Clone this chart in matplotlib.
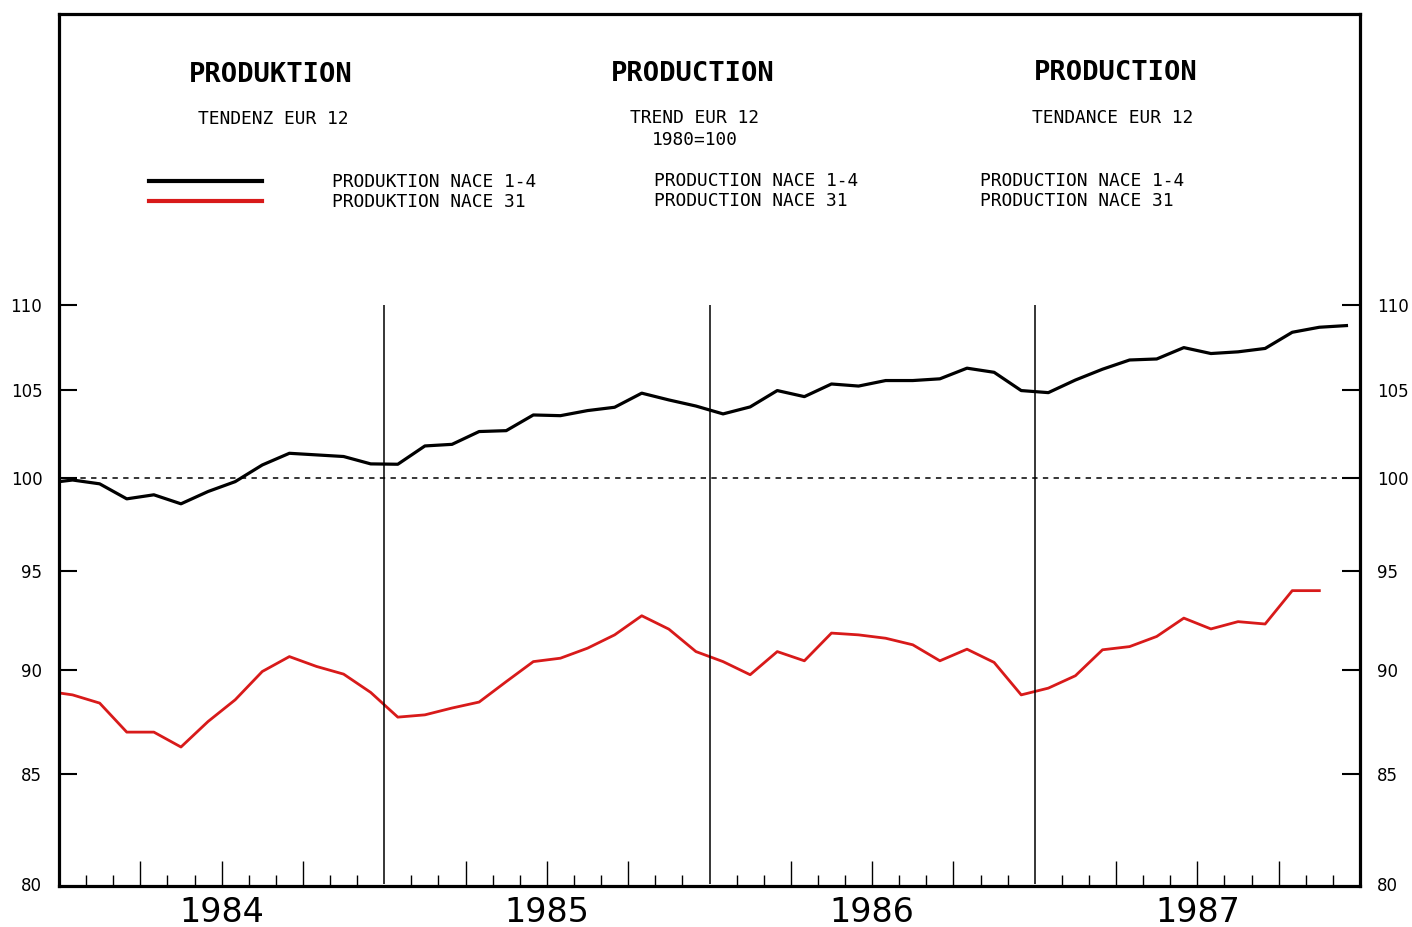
import numpy as np
import matplotlib
matplotlib.use('Agg')
import matplotlib.pyplot as plt
from matplotlib.ticker import FixedLocator, FixedFormatter, NullLocator

# monthly values (index -1 = Dec 1983, only the edge of it is visible)
nace_1_4 = [99.72,
            99.90, 99.69, 98.87, 99.09, 98.60, 99.27, 99.81, 100.73, 101.38, 101.29, 101.20, 100.79,
            100.77, 101.79, 101.88, 102.60, 102.65, 103.54, 103.50, 103.79, 103.98, 104.79, 104.40, 104.05,
            103.60, 104.00, 104.94, 104.59, 105.32, 105.20, 105.52, 105.52, 105.62, 106.24, 106.00, 104.94,
            104.82, 105.55, 106.18, 106.72, 106.78, 107.45, 107.10, 107.20, 107.40, 108.36, 108.66, 108.76]
nace_31 = [88.95,
           88.76, 88.36, 86.96, 86.96, 86.25, 87.47, 88.52, 89.91, 90.65, 90.16, 89.78, 88.88,
           87.68, 87.79, 88.12, 88.41, 89.41, 90.40, 90.57, 91.07, 91.74, 92.71, 92.03, 90.90,
           90.40, 89.75, 90.90, 90.44, 91.83, 91.74, 91.57, 91.24, 90.44, 91.02, 90.36, 88.76,
           89.09, 89.70, 90.99, 91.15, 91.66, 92.59, 92.04, 92.41, 92.29, 94.00, 94.00]
years = [1984, 1985, 1986, 1987]
yticks = [80, 85, 90, 95, 100, 105, 110]

# mid-month positions in decimal years
t_black = 1984 + (np.arange(-1, len(nace_1_4) - 1) + 0.5) / 12
t_red = 1984 + (np.arange(-1, len(nace_31) - 1) + 0.5) / 12

W, H = 1412, 927
fig = plt.figure(figsize=(W / 100, H / 100), dpi=100, facecolor='w')
ax = fig.add_axes([59 / W, 1 - 886 / H, (1360 - 59) / W, (886 - 14) / H])

ax.set_yscale('log')
ax.set_ylim(79.9, 129.1)
ax.set_xlim(1984, 1988)

ax.plot(t_black, nace_1_4, color='black', lw=2.3, label='PRODUKTION NACE 1-4')
ax.plot(t_red, nace_31, color='#d81a1a', lw=2.0, label='PRODUKTION NACE 31')

# reference line and year separators
ax.axhline(100, color='black', lw=1.1, ls=(0, (3.5, 3.5)))
ax.vlines(years[1:], 80, 110, color='black', lw=1.1)

for s in ax.spines.values():
    s.set_linewidth(2.3)

# y axis, both sides
ax.yaxis.set_major_locator(FixedLocator(yticks))
ax.yaxis.set_major_formatter(FixedFormatter([str(v) for v in yticks]))
ax.yaxis.set_minor_locator(NullLocator())
ax.tick_params(axis='y', which='major', direction='in', length=13, width=1.5,
               labelsize=12, pad=12, left=True, right=True, labelright=True)
# no tick mark at the bottom value, only its label
t80 = ax.yaxis.get_major_ticks()[0]
t80.tick1line.set_visible(False)
t80.tick2line.set_visible(False)

# x axis: quarters long, months short, year under the middle
quarters = [y + q / 4 for y in years for q in (1, 2, 3)]
months = [y + m / 12 for y in years for m in range(1, 12) if m % 3 != 0]
ax.xaxis.set_major_locator(FixedLocator(quarters))
ax.xaxis.set_major_formatter(FixedFormatter(
    [str(int(q)) if abs(q % 1 - 0.5) < 1e-6 else '' for q in quarters]))
ax.xaxis.set_minor_locator(FixedLocator(months))
ax.tick_params(axis='x', which='major', direction='in', length=18, width=1.0,
               labelsize=24, pad=7)
ax.tick_params(axis='x', which='minor', direction='in', length=8, width=1.0)

mono = 'DejaVu Sans Mono'

def put(x, y, s, **kw):
    fig.text(x / W, 1 - y / H, s, family=mono, va='center', **kw)

put(271, 75, 'PRODUKTION', size=19.5, weight='bold', ha='center')
put(273, 119, 'TENDENZ EUR 12', size=12.9, ha='center')
put(693, 74, 'PRODUCTION', size=19.5, weight='bold', ha='center')
put(695, 118, 'TREND EUR 12', size=12.9, ha='center')
put(695, 140, '1980=100', size=12.9, ha='center')
put(1116, 73, 'PRODUCTION', size=19.5, weight='bold', ha='center')
put(1113, 118, 'TENDANCE EUR 12', size=12.9, ha='center')
put(654, 181, 'PRODUCTION NACE 1-4', size=12.9, ha='left')
put(654, 201, 'PRODUCTION NACE 31', size=12.9, ha='left')
put(980, 181, 'PRODUCTION NACE 1-4', size=12.9, ha='left')
put(980, 201, 'PRODUCTION NACE 31', size=12.9, ha='left')

leg = ax.legend(loc='center left', bbox_to_anchor=(133 / W, 1 - 192 / H),
                bbox_transform=fig.transFigure, frameon=False,
                prop={'family': mono, 'size': 12.9},
                handlelength=6.3, handletextpad=3.9, labelspacing=0.1)
for h in leg.get_lines():
    h.set_linewidth(3)

fig.savefig('out.png', dpi=100, facecolor='w')
